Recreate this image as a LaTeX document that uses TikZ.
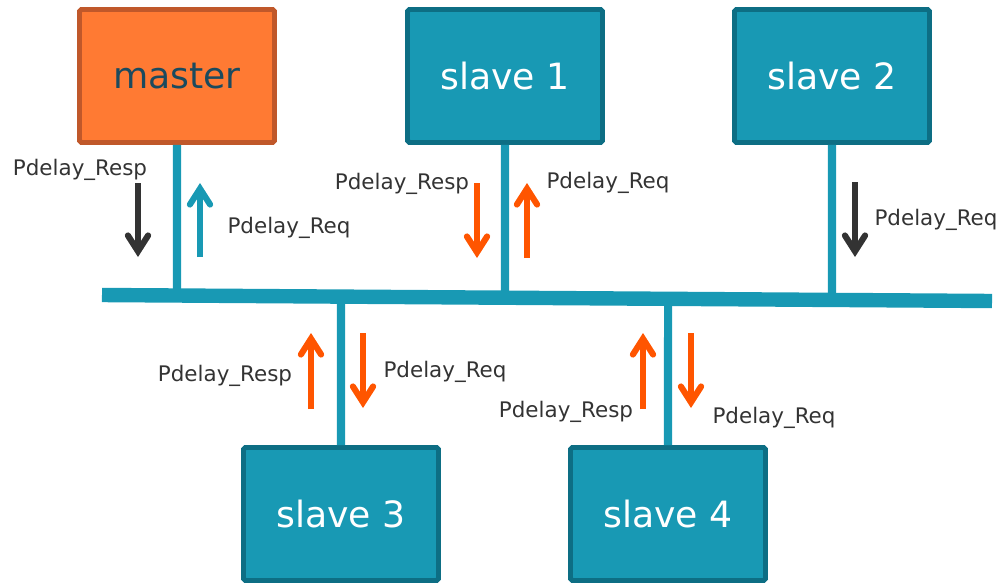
\documentclass[tikz,border=0pt]{standalone}
\usepackage{fontspec}
\setmainfont{DejaVu Sans}
\usetikzlibrary{arrows.meta}
\definecolor{boxteal}{HTML}{1899B4}
\definecolor{boxtealdark}{HTML}{0D6E84}
\definecolor{boxorange}{HTML}{FF7A33}
\definecolor{boxorangedark}{HTML}{C0582A}
\definecolor{msgorange}{HTML}{FF5500}
\definecolor{msgdark}{HTML}{333333}
\definecolor{mastertext}{HTML}{1B4A5E}
\begin{document}
\begin{tikzpicture}[x=0.02cm,y=-0.02cm,
  devbox/.style={draw=boxtealdark,fill=boxteal,line width=2.8pt,rounded corners=1pt,
    minimum width=3.9cm,minimum height=2.66cm,text=white,
    font=\fontsize{20.6}{24}\selectfont},
  masterbox/.style={devbox,draw=boxorangedark,fill=boxorange,text=mastertext},
  busline/.style={draw=boxteal,line width=8.2pt},
  stub/.style={draw=boxteal,line width=4.6pt},
  msg/.style={line width=3.5pt,-{Straight Barb[length=9pt,width=11.5pt,line cap=round]}},
  lbl/.style={text=msgdark,inner sep=0pt,font=\fontsize{12.2}{14}\selectfont}]
\useasboundingbox (0,0) rectangle (1000,585);

% devices
\node[masterbox] (master) at (177,76) {master};
\node[devbox] (slave1) at (505,76) {slave 1};
\node[devbox] (slave2) at (832,76) {slave 2};
\node[devbox] (slave3) at (341,514) {slave 3};
\node[devbox] (slave4) at (668,514) {slave 4};

% shared bus
\coordinate (busL) at (102,295);
\coordinate (busR) at (992,301);
\path (busL) -- (busR)
  coordinate[pos=0.0843] (b0)
  coordinate[pos=0.4528] (b1)
  coordinate[pos=0.8202] (b2)
  coordinate[pos=0.2685] (b3)
  coordinate[pos=0.6360] (b4);
\draw[stub] (master.south) -- (b0);
\draw[stub] (slave1.south) -- (b1);
\draw[stub] (slave2.south) -- (b2);
\draw[stub] (slave3.north) -- (b3);
\draw[stub] (slave4.north) -- (b4);
\draw[busline] (busL) -- (busR);

% message arrow end points
\coordinate (m0a) at (138,183); \coordinate (m0b) at (138,257);
\coordinate (m0c) at (200,257); \coordinate (m0d) at (200,183);
\coordinate (m1a) at (477,183); \coordinate (m1b) at (477,258);
\coordinate (m1c) at (527,258); \coordinate (m1d) at (527,183);
\coordinate (m2a) at (855,182); \coordinate (m2b) at (855,257);
\coordinate (m3a) at (311,409); \coordinate (m3b) at (311,333);
\coordinate (m3c) at (363,333); \coordinate (m3d) at (363,408);
\coordinate (m4a) at (643,409); \coordinate (m4b) at (643,333);
\coordinate (m4c) at (691,333); \coordinate (m4d) at (691,408);

% messages
\draw[msg,msgdark] (m0a) -- (m0b);
\draw[msg,boxteal] (m0c) -- (m0d);
\draw[msg,msgorange] (m1a) -- (m1b);
\draw[msg,msgorange] (m1c) -- (m1d);
\draw[msg,msgdark] (m2a) -- (m2b);
\draw[msg,msgorange] (m3a) -- (m3b);
\draw[msg,msgorange] (m3c) -- (m3d);
\draw[msg,msgorange] (m4a) -- (m4b);
\draw[msg,msgorange] (m4c) -- (m4d);

% message labels
\node[lbl] (l0a) at (80,170) {Pdelay\_Resp};
\node[lbl] (l0b) at (289,228) {Pdelay\_Req};
\node[lbl] (l1a) at (402,184) {Pdelay\_Resp};
\node[lbl] (l1b) at (608,183) {Pdelay\_Req};
\node[lbl] (l2a) at (936,220) {Pdelay\_Req};
\node[lbl] (l3a) at (225,376) {Pdelay\_Resp};
\node[lbl] (l3b) at (445,372) {Pdelay\_Req};
\node[lbl] (l4a) at (566,412) {Pdelay\_Resp};
\node[lbl] (l4b) at (774,418) {Pdelay\_Req};
\end{tikzpicture}
\end{document}
